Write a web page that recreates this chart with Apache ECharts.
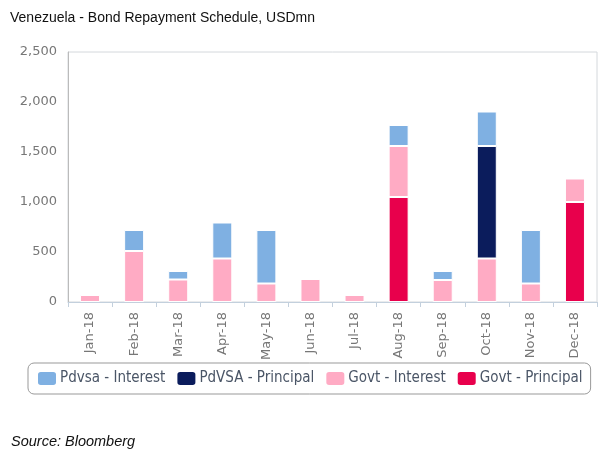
<!DOCTYPE html>
<html><head><meta charset="utf-8">
<script src="https://cdn.jsdelivr.net/npm/echarts@6/dist/echarts.min.js"></script>
<style>html,body{margin:0;padding:0;background:#fff;}#c{width:609px;height:465px;}</style>
</head><body><div id="c"></div>
<script>
const categories = ['Jan-18','Feb-18','Mar-18','Apr-18','May-18','Jun-18','Jul-18','Aug-18','Sep-18','Oct-18','Nov-18','Dec-18'];
const govtPrincipal = [0,0,0,0,0,0,0,1050,0,0,0,1000];
const govtInterest = [70,510,225,435,185,230,70,510,220,435,185,235];
const pdvsaPrincipal = [0,0,0,0,0,0,0,0,0,1125,0,0];
const pdvsaInterest = [0,210,85,360,535,0,0,210,90,345,535,0];
const yTicks = [0,500,1000,1500,2000,2500];

const chart = echarts.init(document.getElementById('c'), null, {renderer:'canvas'});
const mk = (name, data, color) => ({
  name, type:'bar', stack:'s', data: data.map(v => v === 0 ? null : v), barWidth:20,
  itemStyle:{color, borderColor:'#fff', borderWidth:1},
  emphasis:{disabled:true}
});
chart.setOption({
  animation:false,
  graphic:[
    {type:'text', left:10, top:11, style:{text:'Venezuela - Bond Repayment Schedule, USDmn', font:'14px "Liberation Sans", Arial, sans-serif', fill:'#111'}},
    {type:'text', left:11, top:434, style:{text:'Source: Bloomberg', font:'italic 14.5px "Liberation Sans", Arial, sans-serif', fill:'#111'}}
  ],
  grid:{left:68, right:12, top:52, bottom:163, show:true, borderColor:'#d4d8dc', borderWidth:1},
  legend:{
    data:['Pdvsa - Interest','PdVSA - Principal','Govt - Interest','Govt - Principal'],
    left:28, top:363, width:562, itemWidth:20, itemHeight:15, itemGap:10,
    padding:[7,8,7,8], borderColor:'#999', borderWidth:1, borderRadius:6,
    icon:'roundRect',
    textStyle:{fontFamily:'"DejaVu Sans Condensed", "DejaVu Sans", sans-serif', fontSize:15, color:'#4a5566', padding:[0,0,0,-2]}
  },
  xAxis:{
    type:'category', data:categories,
    axisLine:{lineStyle:{color:'#c3d0dd'}},
    axisTick:{show:true, lineStyle:{color:'#c3d0dd'}, length:5},
    axisLabel:{rotate:90, color:'#777', fontFamily:'"DejaVu Sans", sans-serif', fontSize:13, margin:10}
  },
  yAxis:{
    type:'value', min:yTicks[0], max:yTicks[yTicks.length-1], interval:500,
    axisLine:{show:true, lineStyle:{color:'#bbb'}},
    axisTick:{show:false},
    splitLine:{show:false},
    axisLabel:{color:'#777', fontFamily:'"DejaVu Sans", sans-serif', fontSize:13, margin:11,
      formatter:v=>v.toLocaleString('en-US')}
  },
  series:[
    mk('Govt - Principal', govtPrincipal, '#e8004c'),
    mk('Govt - Interest', govtInterest, '#ffabc4'),
    mk('PdVSA - Principal', pdvsaPrincipal, '#0b1c5c'),
    mk('Pdvsa - Interest', pdvsaInterest, '#7fb0e2')
  ]
});
</script></body></html>
